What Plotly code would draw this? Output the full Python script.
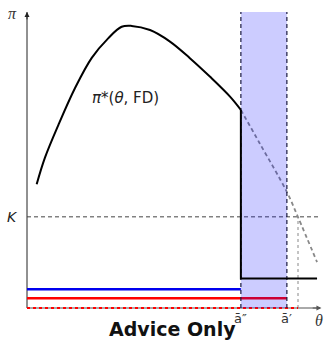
import plotly.graph_objects as go

# profit curve pi*(theta, FD): solid part up to a'' and its dashed continuation
theta_curve = [0.33, 0.61, 1.07, 1.64, 2.21, 2.77, 3.23, 3.57, 4.20, 4.88, 5.56, 6.25, 6.93, 7.30]
pi_curve = [4.18, 5.07, 6.18, 7.43, 8.45, 9.11, 9.50, 9.53, 9.39, 9.00, 8.44, 7.81, 7.14, 6.69]
theta_cont = [7.30, 7.95, 8.87, 9.25, 9.90]
pi_cont = [6.69, 5.55, 3.92, 3.07, 1.55]

# thresholds and levels
a_dd = 7.30      # a''
a_d = 8.87       # a'
theta_k = 9.25   # where the continuation meets K
K = 3.08
pi_low = 1.0     # profit level after the drop
theta_end = 9.90
blue_level = 0.63
red_level = 0.33
x_max = 10.0
y_max = 10.0

fig = go.Figure()

def line(x, y, color, width, dash="solid", shape="linear"):
    fig.add_trace(go.Scatter(x=x, y=y, mode="lines", hoverinfo="skip",
                             line=dict(color=color, width=width, dash=dash, shape=shape)))

# axes
line([0, 0], [0, y_max], "#222222", 1)
line([0, x_max], [0, 0], "#555555", 1)

# K reference line and dotted drop to the axis
line([0, 9.95], [K, K], "#444444", 1, "4px,3px")
line([theta_k, theta_k], [0, K], "#888888", 1, "dot")

# red benchmark level runs through the shaded region
line([0, a_d], [red_level, red_level], "#ff0000", 2.5)
line([0, theta_k], [0, 0], "#ff0000", 2, "dot")

# dashed continuation of the profit curve
line(theta_cont, pi_cont, "#888888", 1.8, "4px,3px", "spline")

# shaded region between a'' and a'
fig.add_trace(go.Scatter(x=[a_dd, a_d, a_d, a_dd, a_dd], y=[0, 0, y_max, y_max, 0],
                         mode="lines", fill="toself", fillcolor="rgba(0,0,255,0.2)",
                         line=dict(width=0), hoverinfo="skip"))
# blue level stops at a''
line([0, a_dd], [blue_level, blue_level], "#0000ee", 2.5)
line([a_dd, a_dd], [0, y_max], "#1a1a40", 1.2, "4px,3px")
line([a_d, a_d], [0, y_max], "#1a1a40", 1.2, "4px,3px")

# profit curve with the drop at a''
line(theta_curve, pi_curve, "#000000", 2, shape="spline")
line([a_dd, a_dd, theta_end], [pi_curve[-1], pi_low, pi_low], "#000000", 2)

# axis arrows
fig.add_annotation(x=0, y=y_max, ax=0, ay=y_max - 0.3, xref="x", yref="y", axref="x", ayref="y",
                   showarrow=True, arrowhead=2, arrowsize=1, arrowwidth=1, arrowcolor="#222222", text="")
fig.add_annotation(x=x_max + 0.05, y=0, ax=x_max - 0.3, ay=0, xref="x", yref="y", axref="x", ayref="y",
                   showarrow=True, arrowhead=2, arrowsize=1, arrowwidth=1, arrowcolor="#555555", text="")

serif = "Liberation Serif"
sans = "DejaVu Sans"
fig.add_annotation(x=-0.5, y=y_max - 0.05, text="<i>π</i>", showarrow=False, xanchor="center",
                   font=dict(family=serif, size=16, color="#333333"))
fig.add_annotation(x=-0.5, y=K, text="<i>K</i>", showarrow=False, xanchor="center",
                   font=dict(family=sans, size=14, color="#222222"))
fig.add_annotation(x=9.98, y=0, yshift=-12, text="<i>θ</i>", showarrow=False, xanchor="center",
                   font=dict(family=serif, size=16, color="#333333"))
fig.add_annotation(x=a_dd, y=0, yshift=-10, text="ā″", showarrow=False, xanchor="center",
                   font=dict(family=sans, size=13, color="#333333"))
fig.add_annotation(x=a_d, y=0, yshift=-10, text="ā′", showarrow=False, xanchor="center",
                   font=dict(family=sans, size=13, color="#333333"))
fig.add_annotation(x=2.15, y=7.08, text="<i>π</i>*(<i>θ</i>, FD)", showarrow=False, xanchor="left",
                   font=dict(family=sans, size=15, color="#222222"))
fig.add_annotation(x=0.515, xref="paper", y=0, yref="paper", yshift=-24, text="<b>Advice Only</b>",
                   showarrow=False, font=dict(family=sans, size=19, color="#111111"))

fig.update_layout(
    width=325, height=342,
    margin=dict(l=12, r=1, t=4, b=24),
    paper_bgcolor="white", plot_bgcolor="white",
    showlegend=False,
    xaxis=dict(range=[-0.512, 10.137], visible=False, fixedrange=True),
    yaxis=dict(range=[-0.338, 10.27], visible=False, fixedrange=True),
)

fig.write_html("out.html")
